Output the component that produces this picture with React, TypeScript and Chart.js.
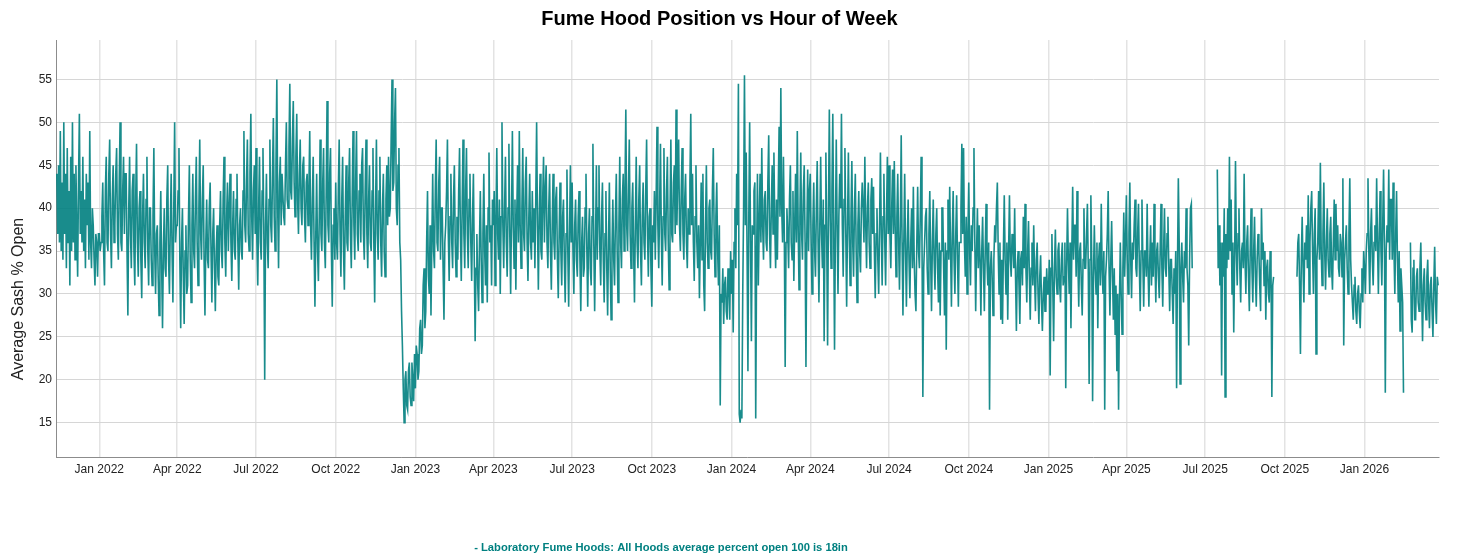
import React, { useEffect, useRef } from "react";
import { Chart, registerables } from "chart.js";

Chart.register(...registerables);

const FONT = "'Liberation Sans', Arial, sans-serif";
const TEAL = "rgba(0, 128, 128, 0.9)";
const TITLE = "Fume Hood Position vs Hour of Week";
const Y_TITLE = "Average Sash % Open";
const SERIES_NAME = "- Laboratory Fume Hoods: All Hoods average percent open 100 is 18in";

const monthNames = ["Jan", "Feb", "Mar", "Apr", "May", "Jun", "Jul", "Aug", "Sep", "Oct", "Nov", "Dec"];
const yTicks = [15, 20, 25, 30, 35, 40, 45, 50, 55];
// quarter gridlines: [year, monthIndex]
const xTickMonths: [number, number][] = [
  [2022, 0], [2022, 3], [2022, 6], [2022, 9],
  [2023, 0], [2023, 3], [2023, 6], [2023, 9],
  [2024, 0], [2024, 3], [2024, 6], [2024, 9],
  [2025, 0], [2025, 3], [2025, 6], [2025, 9],
  [2026, 0],
];

const _ = null;
// daily average sash % open, first value = 1st of the month (null = no data)
const m2021_11 = [_, _, _, _, _, _, _, _, _, _, _, _, 44, 37, 45, 36, 49, 35, 43, 34, 50, 37, 44, 33, 47, 36, 42, 31, 46, 35];
const m2021_12 = [50, 36, 44, 34, 45, 38, 32, 43, 51, 37, 42, 36, 46, 35, 41, 33, 44, 38, 43, 34, 49, 36, 33, 40, 38, 34, 31, 37, 36, 32, 37];
const m2022_01 = [37, 35, 36, 39, 43, 35, 31, 42, 46, 36, 35, 44, 48, 37, 33, 41, 45, 36, 38, 44, 47, 37, 34, 43, 50, 36, 35, 42, 46, 37, 44];
const m2022_02 = [44, 35, 27.5, 40, 46, 37, 33, 42, 44, 35, 31, 41, 47.5, 36, 32, 40, 42, 34, 29.5, 39, 44, 36, 33, 41, 46, 35, 31, 40];
const m2022_03 = [40, 34, 31, 39, 47, 35, 30, 37, 38, 32, 27.5, 36, 42, 33, 26, 35, 40, 33, 32, 41, 45, 34, 30, 38, 44, 35, 29, 40, 50, 36, 38];
const m2022_04 = [38, 42, 47, 34, 26, 36, 40, 32, 26.5, 35, 38, 30, 31, 39, 45, 34, 29, 38, 44, 35, 33, 41, 46, 36, 31, 40, 48, 37, 34, 41];
const m2022_05 = [45, 34, 27.5, 36, 41, 34, 33, 40, 43, 35, 29, 37, 40, 33, 28, 35, 38, 32, 31, 38, 42, 35, 33, 41, 46, 36, 32, 39, 43, 35, 40];
const m2022_06 = [44, 36, 31.5, 38, 42, 35, 34, 41, 44, 36, 30.5, 38, 40, 35, 34, 42, 49, 38, 36, 43, 48, 37, 35, 44, 51, 39, 34, 42, 45, 37];
const m2022_07 = [47, 36, 31, 40, 46, 36, 34, 42, 47, 37, 20, 38, 44, 36, 33, 41, 48, 38, 36, 44, 50.5, 39, 35, 45, 55, 40, 33, 43, 46, 38, 44];
const m2022_08 = [44, 39, 38, 45, 50, 41, 40, 47, 54.5, 42, 41, 48, 52.5, 43, 39, 46, 51, 41, 37, 44, 48, 40, 38, 45, 46, 39, 36, 43, 44, 38, 42];
const m2022_09 = [49, 38, 34, 41, 46, 36, 28.5, 37, 44, 35, 31.5, 39, 48, 37, 35, 43, 47, 36, 33, 42, 52.5, 38, 36, 44, 47, 35, 28.5, 38, 40, 34];
const m2022_10 = [43, 36, 34, 42, 48, 37, 32, 41, 46, 35, 30.5, 39, 45, 36, 35, 43, 47, 37, 33, 41, 49, 38, 34, 43, 49, 37, 35, 42, 44, 36, 45];
const m2022_11 = [47, 37, 34, 42, 48, 37, 33, 41, 45, 36, 35, 42, 47, 36, 29, 40, 48, 37, 34, 42, 46, 36, 32, 40, 44, 35, 32, 41, 45, 38];
const m2022_12 = [46, 39, 40, 48, 55, 42, 43, 50, 54, 40, 38, 45, 47, 36, 34, 28, 24, 19, 15, 20, 21, 17, 16.5, 21, 22, 18, 17, 22, 20, 17.5, 23];
const m2023_01 = [19, 24, 23, 20, 21, 26, 27, 23, 24, 31, 33, 26, 28, 36, 42, 32, 30, 38, 27.5, 36, 44, 35, 33, 42, 48, 36, 35, 43, 46, 34, 40];
const m2023_02 = [40, 33, 27, 36, 38, 42, 48, 37, 31.5, 39, 44, 36, 33, 41, 45, 36, 32, 39, 34, 42, 47, 37, 31.5, 40, 48, 37, 33, 42];
const m2023_03 = [47, 37, 33, 41, 44, 36, 31.5, 39, 44, 34, 24.5, 33, 37, 31, 28, 36, 42, 34, 29, 37, 44, 35, 31, 38, 29, 40, 46.5, 36, 38, 31, 41];
const m2023_04 = [38, 42, 31, 38, 47, 37, 34, 41, 30, 39, 50, 38, 33, 40, 46, 36, 32, 40, 47.5, 37, 30, 39, 49, 38, 33, 41, 30.5, 39, 45, 36];
const m2023_05 = [49, 38, 33, 40, 47, 37, 35, 43, 46, 36, 31.5, 39, 44, 36, 34, 42, 36, 40, 33, 41, 50, 38, 30.5, 39, 44, 35, 34, 41, 46, 36, 42];
const m2023_06 = [45, 36, 33, 40, 44, 35, 30.5, 38, 44, 36, 34, 41, 42.5, 34, 29.5, 37, 43, 35, 31, 39, 41, 34, 29, 37, 44.5, 35, 28.5, 37, 45, 36];
const m2023_07 = [43, 35, 30, 38, 41, 34, 32, 39, 42, 34, 28, 36, 39, 32, 33, 40, 44, 35, 28.5, 37, 40, 33, 31, 39, 47.5, 36, 28, 36, 45, 34, 40];
const m2023_08 = [45, 35, 31, 39, 43, 34, 29, 37, 42, 33, 27.5, 36, 43, 33, 27, 35, 41, 34, 31, 39, 44, 35, 29, 38, 46, 36, 33, 41, 44, 35, 42];
const m2023_09 = [51.5, 38, 35, 42, 48, 37, 33, 40, 43, 35, 29, 38, 46, 36, 33, 41, 45, 35, 31, 39, 43, 36, 34, 42, 48, 37, 32, 39, 40, 33];
const m2023_10 = [28.5, 38, 36, 42, 34, 41, 49.5, 38, 33, 40, 47.5, 37, 31, 39, 47, 37, 35, 42, 46, 36, 30.5, 39, 48, 37, 36, 43, 45, 37, 51.5, 38, 44];
const m2023_11 = [48, 38, 35, 42, 47, 37, 34, 41, 44, 36, 33, 40, 37, 43, 51, 38, 44, 36, 31.5, 39, 45, 36, 33, 38, 29.5, 36, 43, 34, 44, 31];
const m2023_12 = [28, 38, 45, 36, 33, 40, 41, 35, 34, 42, 47, 37, 32, 39, 43, 35, 31, 38, 17, 30, 29, 33, 26.5, 31, 32, 28, 27, 33, 31, 27, 35];
const m2024_01 = [30, 34, 25.5, 36, 40, 33, 44, 38, 54.5, 16, 15, 16.5, 15.5, 30, 40, 55.5, 38, 46.5, 35, 21, 39, 50, 36, 24.5, 38, 37, 42, 43, 15.5, 34, 44];
const m2024_02 = [31, 38, 44, 36, 47, 38, 34, 41, 42, 36, 35, 43, 48.5, 37, 33, 40, 45, 37, 46.5, 38, 33, 41, 34, 42, 49.5, 39, 54, 40, 36];
const m2024_03 = [46, 37, 21.5, 36, 40, 37, 33, 41, 45, 36, 34, 42, 31.5, 38, 44, 36, 49, 38, 30.5, 39, 46.5, 37, 34, 42, 45, 36, 21.5, 37, 44.5, 35, 42];
const m2024_04 = [44, 36, 30, 38, 43, 35, 32, 40, 45.5, 36, 29, 38, 46, 37, 33, 41, 24.5, 38, 46.5, 36, 24, 40, 51.5, 39, 33, 42, 51, 38, 23.5, 37];
const m2024_05 = [48, 38, 30, 39, 44, 40, 51, 38, 32, 41, 47, 37, 28.5, 38, 46.5, 37, 31, 39, 45.5, 36, 32, 40, 44, 35, 29, 38, 42, 35, 32.5, 40, 43];
const m2024_06 = [40, 36, 46, 38, 33, 40, 43, 36, 33, 41, 43.5, 37, 42.5, 35, 29.5, 37, 40, 34, 30, 38, 46.5, 37, 31, 39, 44, 36, 31, 39, 46, 37];
const m2024_07 = [45, 37, 33, 40, 44.5, 37, 45.5, 38, 32, 39, 44, 36, 30.5, 38, 48.5, 36, 27.5, 36, 44, 35, 28.5, 36, 41, 34, 29.5, 36, 40, 33, 42.5, 34, 30];
const m2024_08 = [28, 36, 42.5, 35, 33, 39, 46, 36, 18, 33, 36, 39, 40, 33, 30, 37, 42, 34, 28, 36, 41, 34, 30.5, 37, 40, 33, 29, 36, 27.5, 35, 40];
const m2024_09 = [40, 33, 27.5, 36, 23.5, 35, 41, 34, 42.5, 35, 28.5, 37, 42, 34, 30, 37, 41.5, 34, 28.5, 36, 36, 40, 47.5, 37, 47, 36, 32, 39, 30, 37];
const m2024_10 = [43, 35, 31, 38, 35, 40, 47, 36, 28, 35, 40, 33, 38, 34, 27.5, 35, 39, 33, 28, 35, 40.5, 34, 31, 36, 16.5, 33, 35, 32, 27.5, 34, 38];
const m2024_11 = [36, 40, 43, 35, 30, 36, 27, 34, 26.5, 35, 41.5, 34, 30, 36, 27, 35, 41.5, 34, 32, 37, 36, 33, 40, 32, 25.7, 33, 35, 31, 26.5, 34];
const m2024_12 = [35, 31, 39, 33, 40.5, 33, 29, 35, 38.5, 32, 27, 33, 36, 31, 38, 32, 28, 34, 36, 30, 26.5, 32, 34.5, 29, 25.7, 30, 32, 28, 28, 33, 30];
const m2025_01 = [30, 34, 20.5, 33, 37, 31, 24.5, 33, 37.5, 32, 30, 35, 36, 31, 29, 34, 36, 31, 32, 36, 19, 33, 40, 34, 30, 36, 26, 35, 42.5, 34, 38];
const m2025_02 = [38, 32, 42, 34, 28.5, 35, 36, 31, 27.5, 34, 40, 33, 33, 37, 40.5, 33, 19.5, 34, 41.5, 34, 17.5, 32, 38, 33, 30, 36, 26, 34];
const m2025_03 = [36, 31, 40.5, 33, 30, 35, 16.5, 32, 34, 37, 42, 33, 27.5, 34, 38.5, 32, 27, 33, 25.3, 31, 21, 30, 16.5, 29, 36, 30, 25.3, 33, 39.5, 32, 36];
const m2025_04 = [41.5, 34, 30, 37, 43, 34, 29.5, 36, 34, 38, 41, 33, 32, 37, 40.5, 33, 28, 35, 41, 34, 28.5, 35, 35, 32, 40.5, 33, 28.5, 34, 38, 31];
const m2025_05 = [36, 32, 40.5, 34, 29, 35, 36, 32, 29.5, 35, 40.5, 33, 28.5, 35, 40, 33, 32, 37, 39, 33, 28, 34, 34, 30, 26.5, 33, 30, 35, 19, 33, 43.5];
const m2025_06 = [36, 19.5, 33, 36, 32, 29, 35, 33, 40, 33, 31, 24, 34, 40, 40.5, 33, _];
const m2025_07 = [_, _, _, _, _, _, _, _, _, _, _, _, _, _, 44.5, 33, 38, 31, 36, 20.5, 36, 32, 40, 18, 37, 33, 40, 34, 46, 35, 41];
const m2025_08 = [30, 36, 25.5, 34, 45.5, 35, 31, 37, 40, 33, 29, 35, 36, 33, 44, 34, 30, 36, 38, 32, 28, 35, 40, 33, 29, 35, 39, 32, 28.5, 34, 37];
const m2025_09 = [35, 31, 28, 40, 34, 36, 31, 35, 27, 33, 34, 30, 29, 35, 33, 18, 31, 32, _];
const m2025_10 = [_, _, _, _, _, _, _, _, _, _, _, _, _, _, 32, 36, 37, 31, 23, 34, 39, 33, 29, 36, 34, 38, 33, 41.5, 30, 36, 40];
const m2025_11 = [42, 35, 30, 37, 40, 23, 34, 36, 42, 34, 45.3, 35, 31, 37, 43, 35, 30.5, 36, 40, 34, 32, 37, 39, 33, 30.5, 36, 41, 34, 40.5, 35];
const m2025_12 = [38, 33, 32, 37, 36, 32, 43.5, 24, 34, 36, 38, 33, 30, 37, 43.5, 34, 31, 29, 27, 31, 32, 28, 26.5, 30, 31, 28, 26, 30, 33, 29, 35];
const m2026_01 = [33, 30, 35, 37, 43.5, 35, 30, 37, 40, 34, 31, 36, 38, 35, 43.5, 36, 30, 37, 42, 35, 31, 38, 44.5, 36, 18.5, 35, 38, 36, 44.5, 34, 41];
const m2026_02 = [41, 34, 43, 35, 30, 37, 42, 34, 29, 35, 25.7, 33, 31, 29, 18.5, _, _, _, _, _, _, _, 36, 27, 25.5, 33, 34, 27];
const m2026_03 = [27, 32, 33, 29, 28, 33, 36, 30, 24.5, 31, 33, 29, 27, 32, 34, 29, 26, 31, 32, 28, 25, 31, 35.5, 29, 26.5, 32, 31];

const months: [number, number, (number | null)[]][] = [
  [2021, 10, m2021_11], [2021, 11, m2021_12],
  [2022, 0, m2022_01], [2022, 1, m2022_02], [2022, 2, m2022_03], [2022, 3, m2022_04],
  [2022, 4, m2022_05], [2022, 5, m2022_06], [2022, 6, m2022_07], [2022, 7, m2022_08],
  [2022, 8, m2022_09], [2022, 9, m2022_10], [2022, 10, m2022_11], [2022, 11, m2022_12],
  [2023, 0, m2023_01], [2023, 1, m2023_02], [2023, 2, m2023_03], [2023, 3, m2023_04],
  [2023, 4, m2023_05], [2023, 5, m2023_06], [2023, 6, m2023_07], [2023, 7, m2023_08],
  [2023, 8, m2023_09], [2023, 9, m2023_10], [2023, 10, m2023_11], [2023, 11, m2023_12],
  [2024, 0, m2024_01], [2024, 1, m2024_02], [2024, 2, m2024_03], [2024, 3, m2024_04],
  [2024, 4, m2024_05], [2024, 5, m2024_06], [2024, 6, m2024_07], [2024, 7, m2024_08],
  [2024, 8, m2024_09], [2024, 9, m2024_10], [2024, 10, m2024_11], [2024, 11, m2024_12],
  [2025, 0, m2025_01], [2025, 1, m2025_02], [2025, 2, m2025_03], [2025, 3, m2025_04],
  [2025, 4, m2025_05], [2025, 5, m2025_06], [2025, 6, m2025_07], [2025, 7, m2025_08],
  [2025, 8, m2025_09], [2025, 9, m2025_10], [2025, 10, m2025_11], [2025, 11, m2025_12],
  [2026, 0, m2026_01], [2026, 1, m2026_02], [2026, 2, m2026_03],
];

const X_MIN = Date.UTC(2021, 10, 12);
const X_MAX = Date.UTC(2026, 2, 28);

// draws the rotated y title and the series label under the plot
const textPlugin = {
  id: "extraText",
  afterDraw: (chart: any) => {
    const { ctx, chartArea } = chart;
    ctx.save();
    ctx.fillStyle = "#222";
    ctx.font = `16px ${FONT}`;
    ctx.textAlign = "center";
    ctx.textBaseline = "middle";
    ctx.translate(19, chartArea.top + 259);
    ctx.rotate(-Math.PI / 2);
    ctx.fillText(Y_TITLE, 0, 0);
    ctx.restore();

    ctx.save();
    ctx.fillStyle = "#008080";
    ctx.font = `bold 11.2px ${FONT}`;
    ctx.textAlign = "center";
    ctx.textBaseline = "middle";
    ctx.fillText(SERIES_NAME, 661, chartArea.bottom + 91);
    ctx.restore();
  },
};

export default function App() {
  const canvasRef = useRef<HTMLCanvasElement | null>(null);

  useEffect(() => {
    const ctx = canvasRef.current?.getContext("2d");
    if (!ctx) return;

    const points = months.flatMap(([yr, mo, vals]) =>
      vals.map((v, i) => ({ x: Date.UTC(yr, mo, 1 + i), y: v }))
    );

    const chart = new Chart(ctx, {
      type: "line",
      data: {
        datasets: [
          {
            label: SERIES_NAME,
            data: points as any,
            borderColor: TEAL,
            backgroundColor: TEAL,
            borderWidth: 1.6,
            pointRadius: 0,
            tension: 0,
            spanGaps: false,
            fill: false,
          },
        ],
      },
      options: {
        animation: false,
        responsive: true,
        maintainAspectRatio: false,
        layout: { padding: { left: 0, right: 26, top: 0, bottom: 0 } },
        plugins: {
          legend: { display: false },
          tooltip: { enabled: false },
          title: {
            display: true,
            text: TITLE,
            color: "#000",
            font: { family: FONT, size: 20, weight: "bold" },
            padding: { top: 7, bottom: 9 },
          },
        },
        scales: {
          x: {
            type: "linear",
            min: X_MIN,
            max: X_MAX,
            afterBuildTicks: (scale: any) => {
              scale.ticks = xTickMonths.map(([yr, mo]) => ({ value: Date.UTC(yr, mo, 1) }));
            },
            afterFit: (scale: any) => {
              scale.height = 103;
            },
            ticks: {
              autoSkip: false,
              maxRotation: 0,
              padding: 5,
              color: "#222",
              font: { family: FONT, size: 12 },
              callback: (value: any) => {
                const d = new Date(value);
                return `${monthNames[d.getUTCMonth()]} ${d.getUTCFullYear()}`;
              },
            },
            grid: { color: "#e3e3e3", lineWidth: 1.5, drawTicks: false },
            border: { color: "#8c8c8c", width: 1 },
          },
          y: {
            type: "linear",
            min: 11,
            max: 59.6,
            afterBuildTicks: (scale: any) => {
              scale.ticks = yTicks.map((v) => ({ value: v }));
            },
            afterFit: (scale: any) => {
              scale.width = 56;
            },
            ticks: {
              padding: 4,
              color: "#222",
              font: { family: FONT, size: 12 },
            },
            grid: { color: "#d6d6d6", lineWidth: 1, drawTicks: false },
            border: { color: "#8c8c8c", width: 1 },
          },
        },
      },
      plugins: [textPlugin],
    });

    return () => {
      chart.destroy();
    };
  }, []);

  return (
    <div
      style={{
        position: "fixed",
        left: 0,
        top: 0,
        width: 1465,
        height: 560,
        background: "#fff",
      }}
    >
      <canvas ref={canvasRef} />
    </div>
  );
}
